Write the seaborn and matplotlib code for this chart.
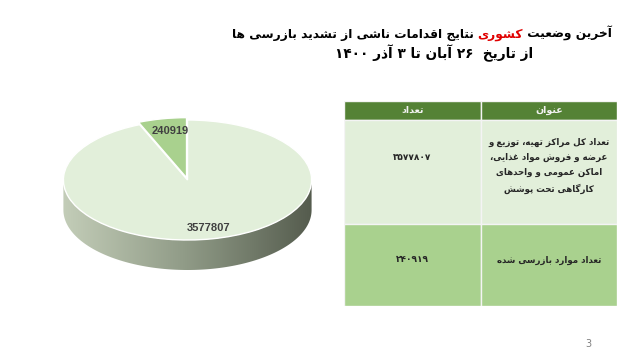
import re
import numpy as np
import matplotlib
matplotlib.use("Agg")
import matplotlib.pyplot as plt
import seaborn as sns
from matplotlib.colors import LinearSegmentedColormap
from matplotlib.path import Path
from matplotlib.patches import PathPatch, Rectangle

# ---- data ----
values = [240919, 3577807]
slice_colors = ["#a9d18e", "#e2efda"]
row_titles = [
    ["تعداد کل مراکز تهیه، توزیع و", "عرضه و فروش مواد غذایی،", "اماکن عمومی و واحدهای", "کارگاهی تحت پوشش"],
    ["تعداد موارد بازرسی شده"],
]
row_values = [3577807, 240919]
header = ["تعداد", "عنوان"]
title_parts = ["آخرین وضعیت ", "کشوری", " نتایج اقدامات ناشی از تشدید بازرسی ها"]
title_colors = ["black", "#e00000", "black"]
subtitle = "از تاریخ  ۲۶ آبان تا ۳ آذر ۱۴۰۰"
page_no = "3"

# ---- tiny arabic shaper (matplotlib has no text shaping) ----
FORMS = {
    'ا': ('\uFE8D', '\uFE8E'), 'آ': ('\uFE81', '\uFE82'),
    'د': ('\uFEA9', '\uFEAA'), 'ذ': ('\uFEAB', '\uFEAC'),
    'ر': ('\uFEAD', '\uFEAE'), 'ز': ('\uFEAF', '\uFEB0'),
    'و': ('\uFEED', '\uFEEE'),
    'ب': ('\uFE8F', '\uFE90', '\uFE91', '\uFE92'),
    'پ': ('\uFB56', '\uFB57', '\uFB58', '\uFB59'),
    'ت': ('\uFE95', '\uFE96', '\uFE97', '\uFE98'),
    'ج': ('\uFE9D', '\uFE9E', '\uFE9F', '\uFEA0'),
    'ح': ('\uFEA1', '\uFEA2', '\uFEA3', '\uFEA4'),
    'خ': ('\uFEA5', '\uFEA6', '\uFEA7', '\uFEA8'),
    'س': ('\uFEB1', '\uFEB2', '\uFEB3', '\uFEB4'),
    'ش': ('\uFEB5', '\uFEB6', '\uFEB7', '\uFEB8'),
    'ض': ('\uFEBD', '\uFEBE', '\uFEBF', '\uFEC0'),
    'ع': ('\uFEC9', '\uFECA', '\uFECB', '\uFECC'),
    'غ': ('\uFECD', '\uFECE', '\uFECF', '\uFED0'),
    'ف': ('\uFED1', '\uFED2', '\uFED3', '\uFED4'),
    'ق': ('\uFED5', '\uFED6', '\uFED7', '\uFED8'),
    'ک': ('\uFB8E', '\uFB8F', '\uFB90', '\uFB91'),
    'گ': ('\uFB92', '\uFB93', '\uFB94', '\uFB95'),
    'ل': ('\uFEDD', '\uFEDE', '\uFEDF', '\uFEE0'),
    'م': ('\uFEE1', '\uFEE2', '\uFEE3', '\uFEE4'),
    'ن': ('\uFEE5', '\uFEE6', '\uFEE7', '\uFEE8'),
    'ه': ('\uFEE9', '\uFEEA', '\uFEEB', '\uFEEC'),
    'ی': ('\uFBFC', '\uFBFD', '\uFBFE', '\uFBFF'),
}
DIGITS = '0-9\u06F0-\u06F9'


def rtl(text):
    out = []
    for i, c in enumerate(text):
        if c not in FORMS:
            out.append(c)
            continue
        f = FORMS[c]
        prev = text[i - 1] if i > 0 else ''
        nxt = text[i + 1] if i + 1 < len(text) else ''
        jp = prev in FORMS and len(FORMS[prev]) == 4
        jn = len(f) == 4 and nxt in FORMS
        out.append(f[3] if jp and jn else f[1] if jp else f[2] if jn else f[0])
    s = ''.join(out)
    runs = re.findall(f'[{DIGITS}]+|[^{DIGITS}]+', s)
    return ''.join(r if re.match(f'[{DIGITS}]', r) else r[::-1] for r in reversed(runs))


def fa_digits(n):
    return str(n).translate(str.maketrans('0123456789', '۰۱۲۳۴۵۶۷۸۹'))


sns.set_style("white")
plt.rcParams['font.family'] = ['DejaVu Sans']

fig = plt.figure(figsize=(6.4, 3.6), dpi=100)
bg = fig.add_axes([0, 0, 1, 1])
bg.set_xlim(0, 1)
bg.set_ylim(0, 1)
bg.axis('off')

# ---- title ----
prev = None
for part, col in zip(title_parts, title_colors):
    if prev is None:
        prev = bg.text(612 / 640, 1 - 38 / 360, rtl(part), ha='right', va='baseline',
                       fontsize=8.8, fontweight='bold', color=col)
    else:
        prev = bg.annotate(rtl(part), xy=(0, 1 - 38 / 360), xycoords=(prev, 'figure fraction'),
                           ha='right', va='baseline', fontsize=8.8, fontweight='bold', color=col)
bg.text(434 / 640, 1 - 58 / 360, rtl(subtitle), ha='center', va='baseline',
        fontsize=9.8, fontweight='bold', color='black')
bg.text(588 / 640, 1 - 347 / 360, page_no, ha='center', va='baseline', fontsize=7, color='#7f7f7f')

# ---- 3D-looking pie ----
depth = 0.5
ax = fig.add_axes([51 / 640, 84 / 360, 273 / 640, 162 / 360])
wedges, texts = ax.pie(values, colors=slice_colors, startangle=90, counterclock=True,
                       explode=[0.04, 0], labels=[str(v) for v in values], labeldistance=None)
ax.set_aspect('auto')
ax.set_xlim(-1.1, 1.1)
ax.set_ylim(-1.6, 1.1)
t = np.linspace(np.pi, 2 * np.pi, 200)
verts = np.vstack([np.c_[np.cos(t), np.sin(t)], np.c_[np.cos(t[::-1]), np.sin(t[::-1]) - depth]])
side = PathPatch(Path(np.vstack([verts, verts[:1]]), closed=True), facecolor='none', edgecolor='none')
ax.add_patch(side)
side_cmap = LinearSegmentedColormap.from_list('side', ['#c3cdb8', '#8f9a86', '#555c4e'])
grad = ax.imshow(np.linspace(0, 1, 256).reshape(1, -1), cmap=side_cmap, aspect='auto',
                 extent=(-1, 1, -1 - depth, 0), zorder=0.5)
grad.set_clip_path(side)
for w in wedges:
    w.set_zorder(2)
ax.text(-0.14, 0.82, str(values[0]), ha='center', va='center', fontsize=8,
        family='Liberation Sans', fontweight='bold', color='#404040', zorder=3)
ax.text(0.17, -0.8, str(values[1]), ha='center', va='center', fontsize=8,
        family='Liberation Sans', fontweight='bold', color='#404040', zorder=3)
ax.axis('off')

# ---- table ----
row_h = [19, 104, 82]
row_fill = ['#548235', '#e2efda', '#a9d18e']
num_off = [-15, -5]
txt_off = [-6, -5]
tab = fig.add_axes([344 / 640, 54 / 360, 273 / 640, 205 / 360])
tab.set_xlim(0, 2)
tab.set_ylim(sum(row_h), 0)
tab.axis('off')
y0 = 0
for r, (h, fc) in enumerate(zip(row_h, row_fill)):
    for c in range(2):
        tab.add_patch(Rectangle((c, y0), 1, h, facecolor=fc, edgecolor='#f4f4f4', linewidth=1))
    if r == 0:
        for c, lab in enumerate(header):
            tab.text(c + 0.5, y0 + h / 2, rtl(lab), ha='center', va='center', fontsize=6.8,
                     fontweight='bold', color='#f2f2f2')
    else:
        tab.text(0.5, y0 + h / 2 + num_off[r - 1], fa_digits(row_values[r - 1]), ha='center',
                 va='center', fontsize=6.5, fontweight='bold', color='#262626')
        tab.text(1.5, y0 + h / 2 + txt_off[r - 1], '\n'.join(rtl(l) for l in row_titles[r - 1]),
                 ha='center', va='center', fontsize=6.2, fontweight='bold', color='#262626',
                 linespacing=1.84)
    y0 += h

fig.savefig('out.png', dpi=100, facecolor='white')
